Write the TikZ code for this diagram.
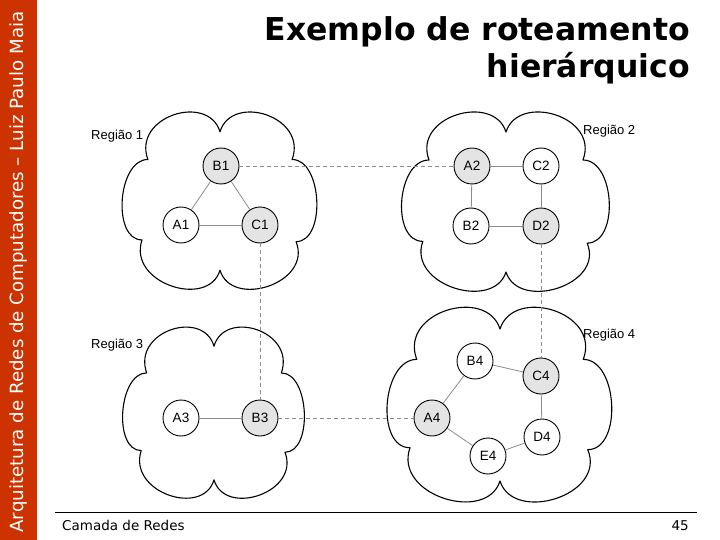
\documentclass[tikz,border=0pt]{standalone}
\usepackage{fontspec}
\setmainfont{Liberation Sans}
\newfontfamily\titlefont{DejaVu Sans}
\newfontfamily\sidefont{DejaVu Sans}
\definecolor{SideRed}{RGB}{204,51,0}
\definecolor{NodeGray}{RGB}{228,228,228}
\tikzset{
  cloudline/.style={draw=black,line width=1.1pt,line join=round},
  regioncloud/.pic={
    \draw[cloudline] (0,-0.8)
      .. controls (-0.12,-1.25) and (-0.9,-0.98) .. (-0.74,-0.48)
      .. controls (-1.05,-0.48) and (-1.11,0.45) .. (-0.8,0.45)
      .. controls (-0.95,0.95) and (-0.12,1.25) .. (0,0.8)
      .. controls (0.12,1.25) and (0.95,0.95) .. (0.78,0.47)
      .. controls (1.09,0.47) and (1.05,-0.48) .. (0.74,-0.48)
      .. controls (0.9,-0.98) and (0.12,-1.25) .. (0,-0.8) -- cycle;
  },
  router/.style={draw=black,line width=0.9pt,circle,minimum size=36pt,
    inner sep=0pt,fill=white,font=\fontsize{13.5}{15}\selectfont},
  border/.style={router,fill=NodeGray},
  link/.style={draw=black!45,line width=0.8pt},
  trunk/.style={draw=black!45,line width=0.8pt,dash pattern=on 4pt off 3pt},
  regionlabel/.style={font=\fontsize{13}{15}\selectfont,anchor=west,inner sep=0pt},
  titletext/.style={anchor=base east,inner sep=0pt,
    font=\titlefont\bfseries\fontsize{31.5}{37}\selectfont},
  foottext/.style={inner sep=0pt,font=\sidefont\fontsize{13.5}{15}\selectfont},
}

\begin{document}
\begin{tikzpicture}[x=1pt,y=-1pt]
    \useasboundingbox (0,0) rectangle (720,540);
    \fill[SideRed] (0,0) rectangle (37,540);
    \node[rotate=90,text=white,font=\sidefont\fontsize{18.2}{20}\selectfont]
      (side) at (18.5,272) {Arquitetura de Redes de Computadores – Luiz Paulo Maia};
    \node[titletext] (title) at (690,41) {Exemplo de roteamento};
    \node[titletext] (title2) at (690,78) {hierárquico};

    \pic[xscale=97.5,yscale=86.5] (reg1) at (220,201) {regioncloud};
    \pic[xscale=104,yscale=87.5] (reg2) at (506,202) {regioncloud};
    \pic[xscale=91,yscale=83.5] (reg3) at (214,413) {regioncloud};
    \pic[xscale=112.5,yscale=95] (reg4) at (500,405) {regioncloud};

    \node[regionlabel] (lab1) at (91,136) {Região 1};
    \node[regionlabel] (lab2) at (583,131) {Região 2};
    \node[regionlabel] (lab3) at (91,345) {Região 3};
    \node[regionlabel] (lab4) at (583,335) {Região 4};

    \node[border] (B1) at (221,166) {B1};
    \node[router] (A1) at (181,225) {A1};
    \node[border] (C1) at (260,225) {C1};
    \draw[link] (B1) -- (A1);
    \draw[link] (B1) -- (C1);
    \draw[link] (A1) -- (C1);

    \node[border] (A2) at (472,166) {A2};
    \node[router] (C2) at (541,166) {C2};
    \node[router] (B2) at (471,226) {B2};
    \node[border] (D2) at (541,226) {D2};
    \draw[link] (A2) -- (C2);
    \draw[link] (A2) -- (B2);
    \draw[link] (C2) -- (D2);
    \draw[link] (B2) -- (D2);

    \node[router] (A3) at (181,418) {A3};
    \node[border] (B3) at (260,418) {B3};
    \draw[link] (A3) -- (B3);

    \node[router] (B4) at (475,361) {B4};
    \node[border] (C4) at (541,376) {C4};
    \node[border] (A4) at (432,418) {A4};
    \node[router] (D4) at (542,437) {D4};
    \node[router] (E4) at (488,456) {E4};
    \draw[link] (A4) -- (B4);
    \draw[link] (B4) -- (C4);
    \draw[link] (C4) -- (D4);
    \draw[link] (D4) -- (E4);
    \draw[link] (E4) -- (A4);

    \draw[trunk] (B1) -- (A2);
    \draw[trunk] (C1) -- (B3);
    \draw[trunk] (D2) -- (C4);
    \draw[trunk] (B3) -- (A4);

    \draw[line width=1pt] (55,512) coordinate (rulel) -- (697,512) coordinate (ruler);
    \node[foottext,anchor=base west] (footer) at (62,530) {Camada de Redes};
    \node[foottext,anchor=base east] (page) at (689,530) {45};
\end{tikzpicture}
\end{document}
